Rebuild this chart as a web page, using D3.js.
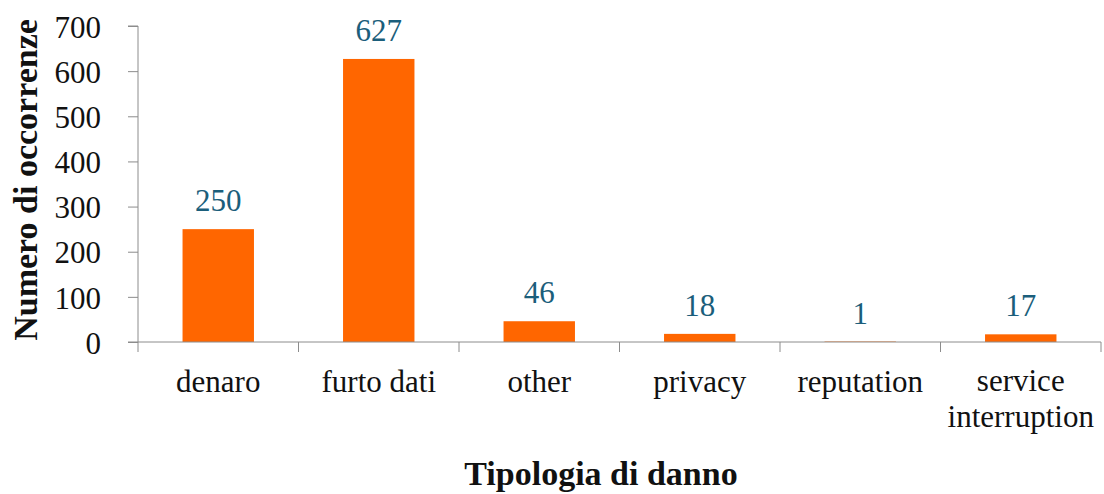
<!DOCTYPE html>
<html><head><meta charset="utf-8">
<script src="https://cdn.jsdelivr.net/npm/d3@7"></script>
<style>body{margin:0;background:#fff}svg{display:block}</style>
</head><body>
<svg id="c" width="1104" height="494"></svg>
<script>
const categories = ["denaro", "furto dati", "other", "privacy", "reputation", "service interruption"];
const values = [250, 627, 46, 18, 1, 17];
const yTicks = [0, 100, 200, 300, 400, 500, 600, 700];
const xTitle = "Tipologia di danno";
const yTitle = "Numero di occorrenze";

const svg = d3.select("#c");
const font = "'Liberation Serif', serif";
const mLeft = 138, mRight = 1101, mTop = 26, mBottom = 342;
const x = d3.scaleBand().domain(categories).range([mLeft, mRight]).padding(0);
const y = d3.scaleLinear().domain([0, 700]).range([mBottom, mTop]);
const axisColor = "#8c8c8c";
const labelSize = 31;

// bars
const bw = x.bandwidth() * 0.445;
svg.append("g").selectAll("rect").data(categories).join("rect")
  .attr("x", (d) => x(d) + (x.bandwidth() - bw) / 2)
  .attr("width", bw)
  .attr("y", (d, i) => y(values[i]))
  .attr("height", (d, i) => mBottom - y(values[i]))
  .attr("fill", "#ff6600");

// y axis
const ya = svg.append("g").attr("transform", `translate(${mLeft},0)`)
  .call(d3.axisLeft(y).tickValues(yTicks).tickSize(10).tickPadding(27).tickFormat(d3.format("d")));
ya.select(".domain").attr("stroke", axisColor).attr("d", `M-10,${mTop}H0V${mBottom}H-10`);
ya.selectAll(".tick line").attr("stroke", axisColor);
ya.selectAll(".tick text").attr("font-family", font).attr("font-size", labelSize).attr("fill", "#111").attr("dy", "0.36em");

// x axis
const xa = svg.append("g").attr("transform", `translate(0,${mBottom})`);
xa.append("line").attr("x1", mLeft).attr("x2", mRight).attr("stroke", axisColor);
const edges = categories.map(d => x(d)).concat([mRight]);
xa.selectAll("line.t").data(edges).join("line").attr("class", "t")
  .attr("x1", d => d).attr("x2", d => d).attr("y1", 0).attr("y2", 10).attr("stroke", axisColor);
xa.selectAll("text.l").data(categories).join("text").attr("class", "l")
  .attr("x", d => x(d) + x.bandwidth() / 2)
  .attr("text-anchor", "middle")
  .attr("font-family", font).attr("font-size", labelSize).attr("fill", "#111")
  .each(function(d) {
    const parts = d === "service interruption" ? ["service", "interruption"] : [d];
    const t = d3.select(this);
    parts.forEach((p, k) => t.append("tspan").attr("x", x(d) + x.bandwidth() / 2).attr("y", parts.length > 1 ? 49 + k * 36 : 50).text(p));
  });

// value labels
svg.append("g").selectAll("text").data(categories).join("text")
  .attr("x", d => x(d) + x.bandwidth() / 2)
  .attr("y", (d, i) => y(values[i]) - 18)
  .attr("text-anchor", "middle")
  .attr("font-family", font).attr("font-size", labelSize).attr("fill", "#1b5e7b")
  .text((d, i) => values[i]);

// titles
svg.append("text").attr("x", 601).attr("y", 485).attr("text-anchor", "middle")
  .attr("font-family", font).attr("font-size", 34).attr("font-weight", "bold").attr("fill", "#111")
  .text(xTitle);
svg.append("text").attr("transform", "translate(37,180) rotate(-90)").attr("text-anchor", "middle")
  .attr("font-family", font).attr("font-size", 34).attr("font-weight", "bold").attr("fill", "#111")
  .text(yTitle);
</script>
</body></html>
